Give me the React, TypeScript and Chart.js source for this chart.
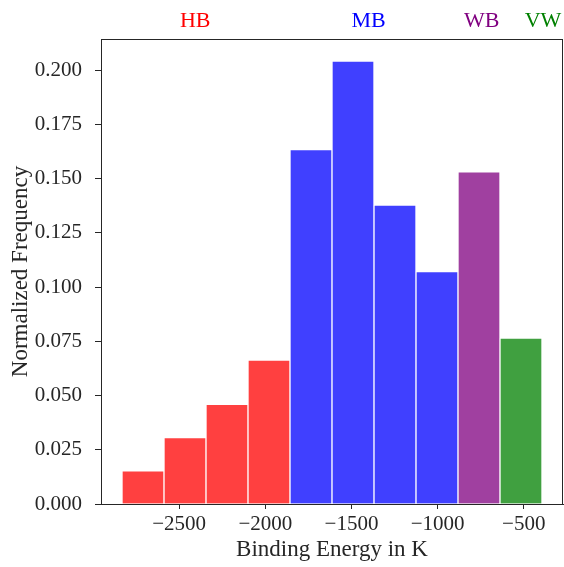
import React, { useEffect, useRef } from "react";
import { Chart, registerables } from "chart.js";

Chart.register(...registerables);

const binStart = -2832;
const binWidth = 243.8;
const frequencies = [0.0153, 0.0306, 0.0459, 0.0663, 0.1633, 0.2041, 0.1378, 0.1071, 0.1531, 0.0765];
const barColors = ["#ff4040", "#ff4040", "#ff4040", "#ff4040", "#4040ff", "#4040ff", "#4040ff", "#4040ff", "#a040a0", "#40a040"];
const xTicks = [-2500, -2000, -1500, -1000, -500];
const groupLabels = ["HB", "MB", "WB", "VW"];
const groupLabelX = [-2407, -1401, -744, -388];
const groupColors = ["#ff0000", "#0000ff", "#800080", "#008000"];

const FONT = "'Liberation Serif', 'Times New Roman', serif";

export default function App() {
  const ref = useRef<HTMLCanvasElement | null>(null);
  useEffect(() => {
    document.body.style.margin = "0";
    const canvas = ref.current!;
    const data = frequencies.map((y, i) => ({ x: binStart + binWidth * (i + 0.5), y }));
    const xmin = binStart - binWidth * 10 * 0.05;
    const xmax = binStart + binWidth * 10 * 1.05;
    const ymax = Math.max(...frequencies) * 1.05;

    const framePlugin = {
      id: "frame",
      afterDraw(chart: any) {
        const { ctx, chartArea } = chart;
        ctx.save();
        ctx.strokeStyle = "#262626";
        ctx.lineWidth = 1;
        ctx.strokeRect(Math.round(chartArea.left) + 0.5, Math.round(chartArea.top) + 0.5,
          Math.round(chartArea.right - chartArea.left) - 1, Math.round(chartArea.bottom - chartArea.top));
        const xs = chart.scales.x;
        ctx.font = `22px ${FONT}`;
        ctx.textAlign = "center";
        ctx.textBaseline = "alphabetic";
        groupLabels.forEach((t, i) => {
          ctx.fillStyle = groupColors[i];
          ctx.fillText(t, xs.getPixelForValue(groupLabelX[i]), 27);
        });
        ctx.restore();
      },
    };

    const chart = new Chart(canvas, {
      type: "bar",
      data: {
        datasets: [{
          data,
          backgroundColor: barColors,
          borderColor: "#ffffff",
          borderWidth: 1,
          barPercentage: 1,
          categoryPercentage: 1,
        }],
      },
      options: {
        animation: false,
        responsive: false,
        layout: { padding: { top: 39, right: 1, left: 0, bottom: 0 } },
        plugins: { legend: { display: false }, tooltip: { enabled: false } },
        scales: {
          x: {
            type: "linear",
            offset: false,
            min: xmin,
            max: xmax,
            afterBuildTicks(scale: any) {
              scale.ticks = xTicks.map((v) => ({ value: v }));
            },
            afterFit(scale: any) { scale.height = 63; },
            grid: { offset: false, drawOnChartArea: false, drawTicks: true, tickLength: 5, color: "#262626" },
            border: { display: true, color: "#262626" },
            ticks: {
              color: "#262626",
              padding: 3,
              maxRotation: 0,
              font: { family: FONT, size: 21 },
              callback: (v: any) => (Number(v) < 0 ? "\u2212" + Math.abs(Number(v)) : String(v)),
            },
            title: {
              display: true,
              text: "Binding Energy in K",
              color: "#262626",
              font: { family: FONT, size: 23 },
              padding: { top: 0, bottom: 3 },
            },
          },
          y: {
            min: 0,
            max: ymax,
            afterFit(scale: any) { scale.width = 101; },
            grid: { drawOnChartArea: false, drawTicks: true, tickLength: 6, color: "#262626" },
            border: { display: true, color: "#262626" },
            ticks: {
              stepSize: 0.025,
              includeBounds: false,
              color: "#262626",
              padding: 13,
              font: { family: FONT, size: 21 },
              callback: (v: any) => Number(v).toFixed(3),
            },
            title: {
              display: true,
              text: "Normalized Frequency",
              color: "#262626",
              font: { family: FONT, size: 23 },
              padding: { top: 7, bottom: 0 },
            },
          },
        },
      },
      plugins: [framePlugin],
    });
    return () => chart.destroy();
  }, []);
  return (
    <div style={{ position: "absolute", left: 0, top: 0, width: 564, height: 567 }}>
      <canvas ref={ref} width={564} height={567} style={{ width: 564, height: 567 }} />
    </div>
  );
}
